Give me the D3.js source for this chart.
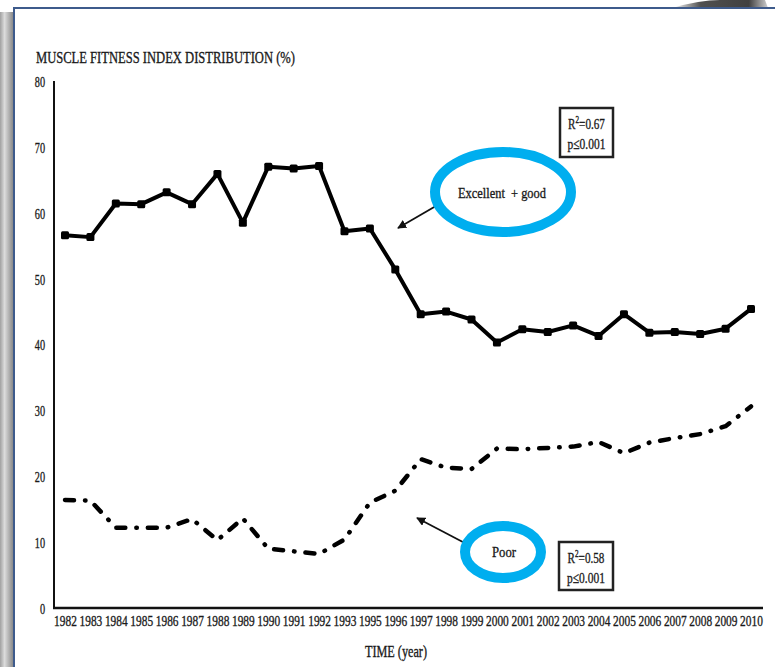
<!DOCTYPE html>
<html>
<head>
<meta charset="utf-8">
<script src="https://cdn.jsdelivr.net/npm/d3@7"></script>
<style>
  html, body { margin: 0; padding: 0; background: #fff; }
  svg { display: block; }
  text { font-family: "Liberation Serif", "DejaVu Serif", serif; fill: #1a1a1a; stroke: #1a1a1a; stroke-width: 0.35px; }
</style>
</head>
<body>
<svg id="chart" width="775" height="667"></svg>
<script>
// Survey years (1994 not surveyed)
const years = ["1982","1983","1984","1985","1986","1987","1988","1989","1990","1991","1992","1993",
               "1995","1996","1997","1998","1999","2000","2001","2002","2003","2004","2005","2006",
               "2007","2008","2009","2010"];
// Share (%) of muscle fitness index classes
const excellentGood = [56.6, 56.3, 61.4, 61.3, 63.1, 61.3, 65.9, 58.5, 67.0, 66.7, 67.1, 57.2,
                       57.6, 51.4, 44.6, 45.0, 43.8, 40.3, 42.3, 41.9, 42.9, 41.3, 44.6, 41.8,
                       41.9, 41.6, 42.4, 45.4];
const poor = [16.4, 16.3, 12.2, 12.2, 12.2, 13.5, 10.3, 13.6, 9.0, 8.6, 8.2, 10.4,
              16.0, 17.8, 22.6, 21.3, 21.1, 24.2, 24.1, 24.3, 24.5, 25.2, 23.5, 25.1,
              25.8, 26.4, 27.6, 30.6];
const yTicks = [0, 10, 20, 30, 40, 50, 60, 70, 80];

const svg = d3.select("#chart");

// narrow serif look: draw text at origin, then place and squeeze horizontally
function squeezed(parent, px, py, sx, size, anchor) {
  return parent.append("text")
    .attr("transform", `translate(${px},${py}) scale(${sx},1)`)
    .attr("font-size", size).attr("text-anchor", anchor || "start");
}

// ---- page frame ----
const defs = svg.append("defs");
const lg = defs.append("linearGradient").attr("id", "sideShade")
  .attr("x1", "0").attr("x2", "1").attr("y1", "0").attr("y2", "0");
lg.append("stop").attr("offset", "0").attr("stop-color", "#a0a0a0");
lg.append("stop").attr("offset", "0.35").attr("stop-color", "#dcdcdc");
lg.append("stop").attr("offset", "1").attr("stop-color", "#8a8a8a");
const tg = defs.append("linearGradient").attr("id", "topShade")
  .attr("x1", "0").attr("x2", "1").attr("y1", "0").attr("y2", "0");
tg.append("stop").attr("offset", "0").attr("stop-color", "#ffffff");
tg.append("stop").attr("offset", "0.3").attr("stop-color", "#505050");
tg.append("stop").attr("offset", "0.8").attr("stop-color", "#404040");
tg.append("stop").attr("offset", "1").attr("stop-color", "#cfcfcf");

svg.append("rect").attr("x", 0).attr("y", 12).attr("width", 13).attr("height", 655)
  .attr("fill", "url(#sideShade)");
svg.append("path").attr("d", "M672,8 Q700,0 720,0 L765,0 L768,8 Z").attr("fill", "url(#topShade)");
svg.append("path").attr("d", "M14,667 L14,8 L775,8")
  .attr("fill", "none").attr("stroke", "#3e5b8c").attr("stroke-width", 2);

// ---- scales ----
const x = d3.scalePoint().domain(years).range([65, 751]);
const y = d3.scaleLinear().domain([0, 80]).range([608, 81]);

// ---- axes ----
const ySx = 0.66;
const yAxis = svg.append("g").attr("transform", "translate(54,0)")
  .call(d3.axisLeft(y).tickValues(yTicks).tickSize(0).tickPadding(9).tickFormat(d3.format("d")));
yAxis.select(".domain").remove();
yAxis.selectAll("text").attr("font-size", 15.5).attr("font-family", "Liberation Serif")
  .attr("fill", "#1a1a1a").attr("dy", "0.35em")
  .attr("x", -9 / ySx).attr("transform", `scale(${ySx},1)`);

const xSx = 0.76;
const xAxis = svg.append("g").attr("transform", "translate(0,608)")
  .call(d3.axisBottom(x).tickSize(0).tickPadding(7));
xAxis.select(".domain").remove();
xAxis.selectAll("text").attr("font-size", 15).attr("font-family", "Liberation Serif")
  .attr("fill", "#1a1a1a").attr("transform", `scale(${xSx},1)`);

svg.append("line").attr("x1", 54).attr("x2", 54).attr("y1", y(80)).attr("y2", y(0) + 1)
  .attr("stroke", "#111").attr("stroke-width", 2);
svg.append("line").attr("x1", 53).attr("x2", 763).attr("y1", y(0)).attr("y2", y(0))
  .attr("stroke", "#111").attr("stroke-width", 2.5);

// ---- titles ----
svg.append("text").attr("x", 36).attr("y", 63).attr("font-size", 16.5)
  .attr("textLength", 259).attr("lengthAdjust", "spacingAndGlyphs")
  .text("MUSCLE FITNESS INDEX DISTRIBUTION (%)");
svg.append("text").attr("x", 396).attr("y", 657).attr("text-anchor", "middle").attr("font-size", 16)
  .attr("textLength", 62).attr("lengthAdjust", "spacingAndGlyphs")
  .text("TIME (year)");

// ---- series ----
const line = d3.line().x((d, i) => x(years[i])).y(d => y(d));

svg.append("path").datum(excellentGood).attr("d", line)
  .attr("fill", "none").attr("stroke", "#000").attr("stroke-width", 4)
  .attr("stroke-linejoin", "round");
svg.selectAll(".eg-mark").data(excellentGood).enter().append("rect")
  .attr("class", "eg-mark")
  .attr("x", (d, i) => x(years[i]) - 4).attr("y", d => y(d) - 4)
  .attr("width", 8).attr("height", 8).attr("rx", 1.5).attr("fill", "#000");

svg.append("path").datum(poor).attr("d", line)
  .attr("fill", "none").attr("stroke", "#000").attr("stroke-width", 4.5)
  .attr("stroke-linecap", "round").attr("stroke-linejoin", "round")
  .attr("stroke-dasharray", "9,11,0.5,11");

// ---- annotations ----
defs.append("marker").attr("id", "arrow").attr("viewBox", "0 0 10 10")
  .attr("refX", 9).attr("refY", 5).attr("markerWidth", 5).attr("markerHeight", 5)
  .attr("orient", "auto-start-reverse")
  .append("path").attr("d", "M0,0 L10,5 L0,10 Z").attr("fill", "#111");

function statBox(x0, y0, w, h, r2) {
  svg.append("rect").attr("x", x0).attr("y", y0).attr("width", w).attr("height", h)
    .attr("fill", "#fff").attr("stroke", "#222").attr("stroke-width", 2.5);
  const t1 = squeezed(svg, x0 + w / 2, y0 + 21, 0.72, 15.5, "middle");
  t1.append("tspan").text("R");
  t1.append("tspan").attr("font-size", 10).attr("dy", -6).text("2");
  t1.append("tspan").attr("dy", 6).text("=" + r2);
  squeezed(svg, x0 + w / 2, y0 + 41, 0.74, 15.5, "middle").text("p\u22640.001");
}
statBox(560, 108, 53, 49, "0.67");
statBox(559, 542, 54, 48, "0.58");

// arrows
svg.append("line").attr("x1", 448).attr("y1", 199).attr("x2", 398).attr("y2", 228)
  .attr("stroke", "#111").attr("stroke-width", 1.8).attr("marker-end", "url(#arrow)");
svg.append("line").attr("x1", 480).attr("y1", 551).attr("x2", 417).attr("y2", 518)
  .attr("stroke", "#111").attr("stroke-width", 1.8).attr("marker-end", "url(#arrow)");

// highlight rings
svg.append("ellipse").attr("cx", 503).attr("cy", 192).attr("rx", 68).attr("ry", 40)
  .attr("fill", "#fff").attr("stroke", "#00aeef").attr("stroke-width", 10);
svg.append("ellipse").attr("cx", 503).attr("cy", 552).attr("rx", 38).attr("ry", 26)
  .attr("fill", "#fff").attr("stroke", "#00aeef").attr("stroke-width", 10);

svg.append("text").attr("x", 502).attr("y", 198).attr("text-anchor", "middle").attr("font-size", 15)
  .attr("textLength", 88).attr("lengthAdjust", "spacingAndGlyphs").style("white-space", "pre")
  .text("Excellent  + good");
svg.append("text").attr("x", 504).attr("y", 557).attr("text-anchor", "middle").attr("font-size", 15)
  .attr("textLength", 24).attr("lengthAdjust", "spacingAndGlyphs")
  .text("Poor");
</script>
</body>
</html>
